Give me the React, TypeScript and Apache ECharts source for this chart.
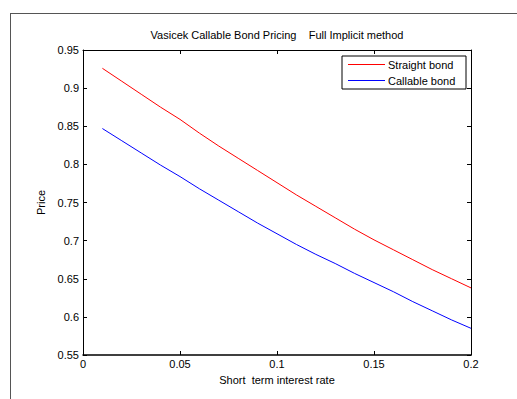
import React, { useEffect, useRef } from "react";
import * as echarts from "echarts";

const rates = [0.01, 0.02, 0.03, 0.04, 0.05, 0.06, 0.07, 0.08, 0.09, 0.1, 0.11, 0.12, 0.13, 0.14, 0.15, 0.16, 0.17, 0.18, 0.19, 0.2];
const straightBond = [0.926, 0.909, 0.892, 0.875, 0.859, 0.841, 0.824, 0.808, 0.792, 0.776, 0.76, 0.745, 0.73, 0.715, 0.701, 0.688, 0.675, 0.662, 0.65, 0.638];
const callableBond = [0.847, 0.831, 0.815, 0.799, 0.784, 0.768, 0.753, 0.738, 0.723, 0.709, 0.695, 0.682, 0.67, 0.657, 0.645, 0.633, 0.62, 0.608, 0.596, 0.585];
const seriesNames = ["Straight bond", "Callable bond"];
const titleText = "Vasicek Callable Bond Pricing    Full Implicit method";
const xName = "Short  term interest rate";
const yName = "Price";

const FONT = "Liberation Sans, Arial, sans-serif";

export default function App() {
  const ref = useRef<HTMLDivElement>(null);
  useEffect(() => {
    if (!ref.current) return;
    const chart = echarts.init(ref.current, null, { renderer: "svg" });
    const axisCommon = {
      type: "value" as const,
      axisLine: { show: true, onZero: false, lineStyle: { color: "#000", width: 1 } },
      axisTick: { show: true, inside: true, length: 4, lineStyle: { color: "#000" } },
      splitLine: { show: false },
    };
    chart.setOption({
      animation: false,
      backgroundColor: "#fff",
      textStyle: { fontFamily: FONT },
      title: {
        text: titleText,
        left: 277,
        textAlign: "center",
        top: 29,
        padding: 0,
        textStyle: { fontSize: 11, fontWeight: "normal", color: "#000", fontFamily: FONT },
      },
      grid: { left: 83, right: 46, top: 50, bottom: 44, containLabel: false },
      xAxis: [
        {
          ...axisCommon,
          position: "bottom",
          min: 0,
          max: 0.2,
          interval: 0.05,
          axisLine: { show: true, onZero: false, lineStyle: { color: "#000", width: 1.5 } },
          axisLabel: { color: "#000", fontSize: 11, margin: 3, fontFamily: FONT },
          name: xName,
          nameLocation: "middle",
          nameGap: 19,
          nameTextStyle: { color: "#000", fontSize: 11, fontFamily: FONT },
        },
        {
          ...axisCommon,
          position: "top",
          min: 0,
          max: 0.2,
          interval: 0.05,
          axisLabel: { show: false },
        },
      ],
      yAxis: [
        {
          ...axisCommon,
          position: "left",
          min: 0.55,
          max: 0.95,
          interval: 0.05,
          axisLabel: { color: "#000", fontSize: 11, margin: 4, fontFamily: FONT },
          name: yName,
          nameLocation: "middle",
          nameGap: 33,
          nameRotate: 90,
          nameTextStyle: { color: "#000", fontSize: 11, fontFamily: FONT },
        },
        {
          ...axisCommon,
          position: "right",
          min: 0.55,
          max: 0.95,
          interval: 0.05,
          axisLabel: { show: false },
        },
      ],
      series: [
        {
          name: seriesNames[0],
          type: "line",
          xAxisIndex: 0,
          yAxisIndex: 0,
          data: rates.map((r, i) => [r, straightBond[i]]),
          showSymbol: false,
          lineStyle: { color: "#ff0000", width: 1 },
          itemStyle: { color: "#ff0000" },
        },
        {
          name: seriesNames[1],
          type: "line",
          xAxisIndex: 0,
          yAxisIndex: 0,
          data: rates.map((r, i) => [r, callableBond[i]]),
          showSymbol: false,
          lineStyle: { color: "#0000ff", width: 1 },
          itemStyle: { color: "#0000ff" },
        },
      ],
      graphic: [
        { type: "line", shape: { x1: 10, y1: 13.5, x2: 517, y2: 13.5 }, style: { stroke: "#555", lineWidth: 1 } },
        { type: "line", shape: { x1: 10.5, y1: 13, x2: 10.5, y2: 399 }, style: { stroke: "#555", lineWidth: 1 } },
        {
          type: "rect",
          shape: { x: 342, y: 56, width: 124, height: 33 },
          style: { fill: "#fff", stroke: "#000", lineWidth: 1 },
          z: 100,
        },
        { type: "line", shape: { x1: 348, y1: 64.5, x2: 385, y2: 64.5 }, style: { stroke: "#ff0000", lineWidth: 1 }, z: 101 },
        { type: "line", shape: { x1: 348, y1: 80.5, x2: 385, y2: 80.5 }, style: { stroke: "#0000ff", lineWidth: 1 }, z: 101 },
        {
          type: "text",
          x: 388,
          y: 65,
          style: { text: seriesNames[0], fontSize: 11, fill: "#000", fontFamily: FONT, verticalAlign: "middle" },
          z: 101,
        },
        {
          type: "text",
          x: 388,
          y: 80.5,
          style: { text: seriesNames[1], fontSize: 11, fill: "#000", fontFamily: FONT, verticalAlign: "middle" },
          z: 101,
        },
      ],
    });
    return () => chart.dispose();
  }, []);
  return (
    <div
      ref={ref}
      style={{ position: "fixed", left: 0, top: 0, width: 517, height: 399, background: "#fff" }}
    />
  );
}
